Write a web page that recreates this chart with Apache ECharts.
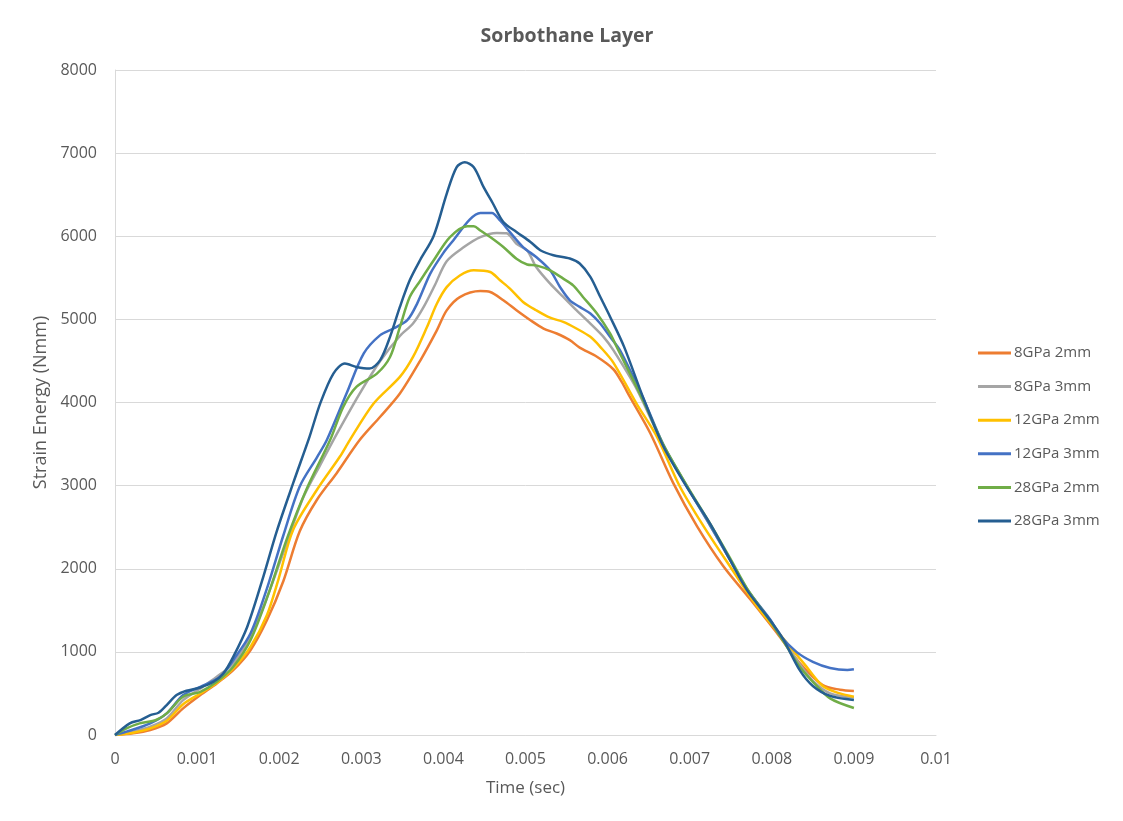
<!DOCTYPE html>
<html>
<head>
<meta charset="utf-8">
<script src="https://cdn.jsdelivr.net/npm/echarts@6/dist/echarts.min.js"></script>
<style>html,body{margin:0;padding:0;background:#fff}#c{width:1123px;height:821px}</style>
</head>
<body>
<div id="c"></div>
<script>
const seriesNames = ['8GPa 2mm','8GPa 3mm','12GPa 2mm','12GPa 3mm','28GPa 2mm','28GPa 3mm'];
const colors = ['#ED7D31','#A5A5A5','#FFC000','#4472C4','#70AD47','#255E91'];
const xTicks = [0,0.001,0.002,0.003,0.004,0.005,0.006,0.007,0.008,0.009,0.01];
const yTicks = [0,1000,2000,3000,4000,5000,6000,7000,8000];

const s8GPa2mm = [[0,0],[0.00022,20],[0.00043,60],[0.00063,140],[0.00083,320],[0.00104,480],[0.00124,620],[0.00144,780],[0.00165,1020],[0.00185,1380],[0.00205,1850],[0.00225,2450],[0.00246,2830],[0.0027,3150],[0.00298,3548],[0.00323,3828],[0.00347,4108],[0.00372,4508],[0.00392,4868],[0.00404,5108],[0.0042,5268],[0.00445,5340],[0.00457,5330],[0.00473,5230],[0.00489,5110],[0.00506,4990],[0.00522,4890],[0.00538,4830],[0.00554,4750],[0.00566,4660],[0.00587,4550],[0.00607,4400],[0.00617,4250],[0.00627,4070],[0.00652,3630],[0.0068,3030],[0.00709,2510],[0.00741,2030],[0.00774,1630],[0.00806,1230],[0.00834,866],[0.00862,600],[0.00883,545],[0.009,530]];
const s8GPa3mm = [[0,0],[0.00022,40],[0.00043,100],[0.00063,200],[0.00083,420],[0.00104,560],[0.00124,700],[0.00144,860],[0.00165,1180],[0.00185,1650],[0.00207,2250],[0.00229,2850],[0.0025,3250],[0.0027,3620],[0.00298,4108],[0.00323,4500],[0.00347,4800],[0.00363,4950],[0.00376,5150],[0.0039,5420],[0.00404,5700],[0.00425,5870],[0.00445,5990],[0.00465,6040],[0.00477,6035],[0.00489,5910],[0.00502,5830],[0.00513,5630],[0.0053,5430],[0.00546,5270],[0.00562,5110],[0.00579,4950],[0.00595,4790],[0.00607,4630],[0.00636,4152],[0.00668,3480],[0.00696,3000],[0.00725,2520],[0.00749,2110],[0.0077,1750],[0.00798,1380],[0.00814,1150],[0.00834,850],[0.0085,650],[0.00871,500],[0.009,450]];
const s12GPa2mm = [[0,0],[0.00022,28],[0.00043,80],[0.00063,172],[0.00083,370],[0.00104,500],[0.00124,628],[0.00144,800],[0.00165,1060],[0.00185,1440],[0.00199,1870],[0.00217,2470],[0.00246,2950],[0.00274,3350],[0.00286,3548],[0.00315,3988],[0.00347,4308],[0.00363,4548],[0.0038,4908],[0.00392,5188],[0.00404,5388],[0.0042,5528],[0.00437,5590],[0.00457,5570],[0.00469,5470],[0.00481,5370],[0.00497,5210],[0.00513,5110],[0.0053,5020],[0.00546,4970],[0.00562,4890],[0.00579,4790],[0.00591,4670],[0.00607,4480],[0.00635,3990],[0.0066,3590],[0.00688,2990],[0.00717,2510],[0.00749,2030],[0.00782,1550],[0.00814,1160],[0.0084,850],[0.00862,590],[0.00883,500],[0.009,461]];
const s12GPa3mm = [[0,0],[0.00014,40],[0.00043,140],[0.00063,260],[0.00083,480],[0.00104,580],[0.00128,700],[0.00144,900],[0.00165,1220],[0.00185,1760],[0.00205,2400],[0.00225,2990],[0.00246,3340],[0.00258,3548],[0.00282,4108],[0.00303,4590],[0.00323,4810],[0.00339,4890],[0.00356,4990],[0.00368,5190],[0.00384,5550],[0.004,5800],[0.00412,5950],[0.00432,6200],[0.00445,6280],[0.00459,6280],[0.00469,6190],[0.00481,6050],[0.00497,5870],[0.00513,5750],[0.0053,5590],[0.00542,5390],[0.00554,5230],[0.00566,5150],[0.00579,5070],[0.00591,4950],[0.00603,4790],[0.00615,4630],[0.00643,4060],[0.00668,3490],[0.00696,3000],[0.00725,2520],[0.00749,2110],[0.0077,1750],[0.00798,1390],[0.0081,1200],[0.0083,1000],[0.0085,880],[0.00871,806],[0.00892,782],[0.009,790]];
const s28GPa2mm = [[0,0],[0.00014,80],[0.0003,140],[0.0005,180],[0.00063,260],[0.00083,460],[0.00104,520],[0.00124,640],[0.00144,820],[0.00165,1140],[0.00187,1700],[0.00209,2350],[0.00233,2950],[0.00262,3548],[0.00278,3948],[0.00294,4188],[0.00319,4348],[0.00335,4548],[0.00347,4908],[0.00359,5268],[0.00372,5468],[0.00388,5708],[0.00408,5990],[0.00429,6120],[0.00437,6120],[0.00445,6070],[0.00457,5990],[0.00473,5870],[0.00489,5730],[0.00502,5660],[0.00513,5650],[0.0053,5590],[0.00546,5490],[0.00558,5410],[0.0057,5270],[0.00587,5070],[0.00603,4830],[0.00611,4670],[0.00643,4031],[0.00668,3490],[0.00696,3010],[0.00725,2540],[0.00749,2130],[0.0077,1760],[0.00798,1370],[0.00814,1130],[0.00834,820],[0.0085,640],[0.00871,440],[0.009,325]];
const s28GPa3mm = [[0,0],[0.00018,140],[0.00031,180],[0.00043,240],[0.00053,268],[0.00063,360],[0.00075,480],[0.00087,532],[0.00104,572],[0.0012,640],[0.00132,740],[0.00144,940],[0.00161,1300],[0.00179,1850],[0.00197,2450],[0.00217,3030],[0.00237,3590],[0.0025,3990],[0.00266,4348],[0.0028,4468],[0.00294,4428],[0.0031,4408],[0.00323,4510],[0.00335,4790],[0.00347,5150],[0.00359,5470],[0.00372,5720],[0.00388,6000],[0.00404,6510],[0.00416,6830],[0.00426,6890],[0.00437,6830],[0.00449,6590],[0.0046,6400],[0.00473,6172],[0.00489,6052],[0.00506,5932],[0.00518,5832],[0.00534,5772],[0.00554,5732],[0.00566,5672],[0.00579,5512],[0.00591,5272],[0.00603,5032],[0.0062,4672],[0.00643,4067],[0.00668,3470],[0.00696,2990],[0.00725,2540],[0.00749,2110],[0.0077,1740],[0.00798,1380],[0.00814,1150],[0.00834,780],[0.0085,590],[0.00871,470],[0.009,421]];

const allData = [s8GPa2mm, s8GPa3mm, s12GPa2mm, s12GPa3mm, s28GPa2mm, s28GPa3mm];
const FONT = '"Open Sans", sans-serif';
const TXT = '#595959';
const chart = echarts.init(document.getElementById('c'));
chart.setOption({
  animation: false,
  backgroundColor: '#fff',
  color: colors,
  title: {
    text: 'Sorbothane Layer', left: 562, top: 21, textAlign: 'center',
    textStyle: { fontFamily: FONT, fontSize: 19.5, fontWeight: 'bold', color: TXT }
  },
  legend: {
    orient: 'vertical', left: 973, top: 339, itemGap: 15.6, itemWidth: 33, itemHeight: 3,
    icon: 'rect',
    textStyle: { fontFamily: FONT, fontSize: 15, lineHeight: 18, color: TXT, padding: [0,0,0,-2] },
    data: seriesNames
  },
  grid: { left: 115, right: 187, top: 70, bottom: 86, containLabel: false },
  xAxis: {
    type: 'value', min: xTicks[0], max: xTicks[xTicks.length-1], interval: 0.001,
    name: 'Time (sec)', nameLocation: 'middle', nameGap: 45,
    nameTextStyle: { fontFamily: FONT, fontSize: 17, color: TXT },
    axisLine: { show: true, lineStyle: { color: '#d9d9d9', width: 1 } },
    axisTick: { show: false },
    splitLine: { show: false },
    axisLabel: { fontFamily: FONT, fontSize: 16, color: TXT, margin: 16,
      formatter: v => String(parseFloat(v.toFixed(4))) }
  },
  yAxis: {
    type: 'value', min: yTicks[0], max: yTicks[yTicks.length-1], interval: 1000,
    name: 'Strain Energy (Nmm)', nameLocation: 'middle', nameGap: 64, nameRotate: 90,
    nameTextStyle: { fontFamily: FONT, fontSize: 18, color: TXT },
    axisLine: { show: true, lineStyle: { color: '#d9d9d9', width: 1 } },
    axisTick: { show: false },
    splitLine: { show: true, lineStyle: { color: '#d9d9d9', width: 1 } },
    axisLabel: { fontFamily: FONT, fontSize: 16, color: TXT, margin: 18,
      formatter: v => String(v) }
  },
  series: seriesNames.map((n, i) => ({
    name: n, type: 'line', data: allData[i], smooth: 0.3, showSymbol: false, symbol: 'none',
    lineStyle: { width: 2.5, color: colors[i] }, itemStyle: { color: colors[i] }
  }))
});
</script>
</body>
</html>
